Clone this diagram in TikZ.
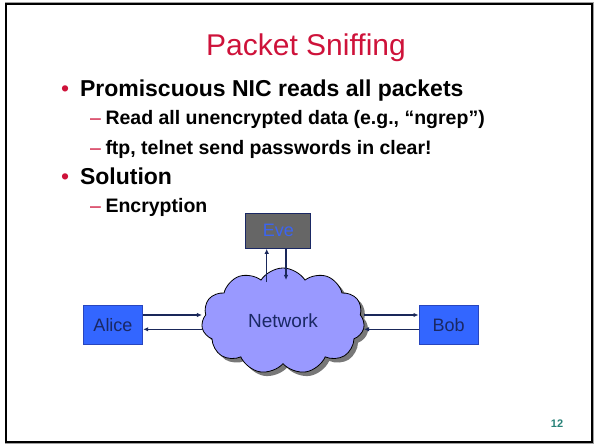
\documentclass[tikz,border=0pt]{standalone}
\usepackage{fontspec}
\setmainfont{Liberation Sans}
\usetikzlibrary{shapes.symbols,arrows.meta,calc}
\definecolor{titlered}{RGB}{206,18,58}
\definecolor{boxblue}{RGB}{51,102,255}
\definecolor{boxedge}{RGB}{40,70,190}
\definecolor{navy}{RGB}{26,40,100}
\definecolor{evefill}{RGB}{102,102,102}
\definecolor{evetext}{RGB}{60,100,240}
\definecolor{cloudfill}{RGB}{153,153,255}
\definecolor{shadowgray}{RGB}{120,120,120}
\definecolor{arrowcol}{RGB}{26,40,90}
\definecolor{teal}{RGB}{40,130,120}
\newcommand\pxfont[1]{\fontsize{#1bp}{#1bp}\selectfont}
\begin{document}
\begin{tikzpicture}[x=1bp,y=-1bp,
  txt/.style={inner sep=0pt, outer sep=0pt, anchor=base west},
  lvlone/.style={txt, font=\pxfont{23}\bfseries},
  lvltwo/.style={txt, font=\pxfont{19.5}\bfseries},
  bulletmark/.style={txt, font=\pxfont{23}, text=titlered},
  dashmark/.style={txt, font=\pxfont{19.5}, text=titlered},
  box/.style={draw, line width=1bp, inner sep=0pt, font=\pxfont{18}},
  cloudshape/.style={cloud, cloud puffs=11, cloud puff arc=115, aspect=1.5,
     minimum width=163bp, minimum height=106bp, inner sep=0pt},
  arr/.style={draw=arrowcol, line width=1.3bp, -{Latex[length=5bp,width=4.5bp]}}
]
\useasboundingbox (0,0) rectangle (595,444);
% frame
\draw[shadowgray!70, line width=1.2bp] (5,2.6) -- (593.6,2.6) -- (593.6,443) -- (5,443);
\draw[black, line width=2bp] (6,4) rectangle (591.8,441.6);
% title
\node[inner sep=0pt, anchor=base, font=\pxfont{30}, text=titlered] (title) at (306,56) {Packet Sniffing};
% bullets
\node[bulletmark] (d1) at (61,97) {•};
\node[lvlone] (l1) at (80,97) {Promiscuous NIC reads all packets};
\node[dashmark] (d2) at (90,125) {–};
\node[lvltwo] (l2) at (105.5,125) {Read all unencrypted data (e.g., “ngrep”)};
\node[dashmark] (d3) at (90,155) {–};
\node[lvltwo] (l3) at (105.5,155) {ftp, telnet send passwords in clear!};
\node[bulletmark] (d4) at (61,185) {•};
\node[lvlone] (l4) at (80,185) {Solution};
\node[dashmark] (d5) at (90,213) {–};
\node[lvltwo] (l5) at (105.5,213) {Encryption};
% cloud
\node[cloudshape, fill=shadowgray, draw=none] (netshadow) at (287,325) {};
\node[cloudshape, fill=cloudfill, draw=black, line width=0.8bp, font=\pxfont{19}, text=navy] (net) at (283,321) {Network};
% boxes
\node[box, fill=boxblue, draw=boxedge, text=navy, minimum width=59.4bp, minimum height=39.3bp] (alice) at (113,324.7) {Alice};
\node[box, fill=boxblue, draw=boxedge, text=navy, minimum width=59.4bp, minimum height=39.3bp] (bob) at (448.7,324.7) {Bob};
\node[box, fill=evefill, draw=navy, text=evetext, minimum width=64.7bp, minimum height=35bp] (eve) at (278.3,230.8) {Eve};
% connectors
\coordinate (evein) at (266.7,282);
\coordinate (eveout) at (286,280);
\draw[arr] (alice.east |- 0,315) -- (net.west |- 0,315);
\draw[arr] (net.west |- 0,329.3) -- (alice.east |- 0,329.3);
\draw[arr] (net.east |- 0,315) -- (bob.west |- 0,315);
\draw[arr] (bob.west |- 0,329.3) -- (net.east |- 0,329.3);
\draw[arr] (evein) -- (evein |- eve.south);
\draw[arr] (eve.south -| eveout) -- (eveout);
% page number
\node[inner sep=0pt, anchor=base, font=\pxfont{11}\bfseries, text=teal] (pagenum) at (557,427) {12};
\end{tikzpicture}
\end{document}
